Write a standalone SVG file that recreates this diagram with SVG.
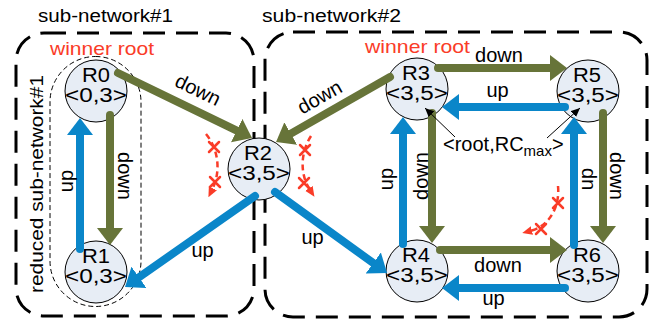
<svg xmlns="http://www.w3.org/2000/svg" width="656" height="321" viewBox="0 0 656 321">
<defs>
<style>
text{font-family:"Liberation Sans",Arial,sans-serif;fill:#000}
.lbl{font-size:20px;text-anchor:middle}
.nt{font-size:20px;text-anchor:middle}
.ttl{font-size:18px}
.win{font-size:19px;fill:#fa3c28}
.box{fill:none;stroke:#000;stroke-width:3;stroke-dasharray:22 11}
.reduced{fill:none;stroke:#000;stroke-width:1;stroke-dasharray:5 3}
.node circle{fill:#e7edf5;stroke:#000;stroke-width:1}
.ol{stroke:#677439;stroke-width:8;fill:none;stroke-linecap:round;marker-end:url(#ho)}
.bl{stroke:#0a86c9;stroke-width:8;fill:none;stroke-linecap:round;marker-end:url(#hb)}
.rd{stroke:#fa3c28;stroke-width:2.5;fill:none;stroke-dasharray:6 4;marker-end:url(#hr)}
.rx{stroke:#fa3c28;stroke-width:2.5;fill:none;stroke-linecap:round}
.ptr{stroke:#000;stroke-width:1;fill:none;marker-end:url(#hk)}
</style>
<marker id="ho" markerUnits="userSpaceOnUse" markerWidth="17" markerHeight="26" refX="3" refY="13" orient="auto"><path d="M0,0L17,13L0,26z" fill="#677439"/></marker>
<marker id="hb" markerUnits="userSpaceOnUse" markerWidth="17" markerHeight="26" refX="3" refY="13" orient="auto"><path d="M0,0L17,13L0,26z" fill="#0a86c9"/></marker>
<marker id="hr" markerUnits="userSpaceOnUse" markerWidth="10" markerHeight="10" refX="2" refY="5" orient="auto"><path d="M0,0.5L10,5L0,9.5z" fill="#fa3c28"/></marker>
<marker id="hk" markerUnits="userSpaceOnUse" markerWidth="9" markerHeight="8" refX="9" refY="4" orient="auto"><path d="M0,0L9,4L0,8z" fill="#000"/></marker>
</defs>

<g id="subnetwork1">
<rect class="box" x="16" y="33" width="238" height="283" rx="28"/>
<text class="ttl" x="38" y="22" textLength="135" lengthAdjust="spacingAndGlyphs">sub-network#1</text>
<text class="win" x="50" y="55" textLength="104" lengthAdjust="spacingAndGlyphs">winner root</text>
</g>
<g id="reduced-subnetwork1">
<rect class="reduced" x="50" y="56.5" width="91" height="250" rx="45.5"/>
<text font-size="19" text-anchor="middle" transform="translate(43,184) rotate(-90)" textLength="218" lengthAdjust="spacingAndGlyphs">reduced sub-network#1</text>
</g>
<g id="subnetwork2">
<rect class="box" x="265" y="32" width="382" height="285" rx="28"/>
<text class="ttl" x="262" y="22" textLength="139" lengthAdjust="spacingAndGlyphs">sub-network#2</text>
<text class="win" x="365" y="53" textLength="105" lengthAdjust="spacingAndGlyphs">winner root</text>
</g>

<g id="R0" class="node"><circle cx="96" cy="91" r="31"/><text class="nt" x="96" y="82" textLength="28" lengthAdjust="spacingAndGlyphs">R0</text><text class="nt" x="96" y="102" textLength="62" lengthAdjust="spacingAndGlyphs">&lt;0,3&gt;</text></g>
<g id="R1" class="node"><circle cx="96" cy="272" r="31"/><text class="nt" x="96" y="263" textLength="28" lengthAdjust="spacingAndGlyphs">R1</text><text class="nt" x="96" y="283" textLength="62" lengthAdjust="spacingAndGlyphs">&lt;0,3&gt;</text></g>
<g id="R2" class="node"><circle cx="259" cy="169" r="31"/><text class="nt" x="258" y="160" textLength="28" lengthAdjust="spacingAndGlyphs">R2</text><text class="nt" x="259" y="180" textLength="62" lengthAdjust="spacingAndGlyphs">&lt;3,5&gt;</text></g>
<g id="R3" class="node"><circle cx="417" cy="89" r="31"/><text class="nt" x="416" y="80" textLength="28" lengthAdjust="spacingAndGlyphs">R3</text><text class="nt" x="417" y="100" textLength="62" lengthAdjust="spacingAndGlyphs">&lt;3,5&gt;</text></g>
<g id="R4" class="node"><circle cx="417" cy="271" r="31"/><text class="nt" x="416" y="262" textLength="28" lengthAdjust="spacingAndGlyphs">R4</text><text class="nt" x="417" y="282" textLength="62" lengthAdjust="spacingAndGlyphs">&lt;3,5&gt;</text></g>
<g id="R5" class="node"><circle cx="588" cy="91" r="31"/><text class="nt" x="587" y="82" textLength="28" lengthAdjust="spacingAndGlyphs">R5</text><text class="nt" x="588" y="102" textLength="62" lengthAdjust="spacingAndGlyphs">&lt;3,5&gt;</text></g>
<g id="R6" class="node"><circle cx="588" cy="271" r="31"/><text class="nt" x="587" y="262" textLength="28" lengthAdjust="spacingAndGlyphs">R6</text><text class="nt" x="588" y="282" textLength="62" lengthAdjust="spacingAndGlyphs">&lt;3,5&gt;</text></g>

<g id="connectors">
<path class="ol" d="M118,73L239.4,131.9"/>
<path class="ol" d="M390,77L288.2,135.1"/>
<path class="bl" d="M255,196L136.5,279"/>
<path class="bl" d="M275,192L375.7,264.8"/>
<path class="bl" d="M80,249L80,132"/>
<path class="ol" d="M110,115L110,231"/>
<path class="ol" d="M438,68L553,68"/>
<path class="bl" d="M565,107L456,107"/>
<path class="bl" d="M403,244L403,131"/>
<path class="ol" d="M432,113L432,229"/>
<path class="bl" d="M574,245L574,131"/>
<path class="ol" d="M603,113L603,229"/>
<path class="ol" d="M440,250L553,250"/>
<path class="bl" d="M565,288L456,288"/>
<text class="lbl" transform="translate(195,96) rotate(26)">down</text>
<text class="lbl" transform="translate(323,103) rotate(-29.7)">down</text>
<text class="lbl" x="202.5" y="257">up</text>
<text class="lbl" x="312.5" y="244">up</text>
<text class="lbl" transform="translate(72.5,181) rotate(-90)">up</text>
<text class="lbl" transform="translate(118,176) rotate(90)">down</text>
<text class="lbl" x="499" y="62">down</text>
<text class="lbl" x="497.5" y="97">up</text>
<text class="lbl" transform="translate(393,179) rotate(-90)">up</text>
<text class="lbl" transform="translate(428,176) rotate(-90)">down</text>
<text class="lbl" transform="translate(593,179) rotate(-90)">up</text>
<text class="lbl" transform="translate(610,176) rotate(90)">down</text>
<text class="lbl" x="498" y="272">down</text>
<text class="lbl" x="493.5" y="305">up</text>
</g>

<g id="annotation">
<path class="ptr" d="M455,137L425,108"/>
<path class="ptr" d="M547,138L580,108"/>
<text font-size="20" x="443" y="151">&lt;root,RC<tspan font-size="15" dy="5">max</tspan><tspan dy="-5">&gt;</tspan></text>
</g>

<g id="failures">
<path class="rd" d="M206,134C219,150 221,172 212,190"/>
<path class="rx" d="M209,142L219,152M219,142L209,152M210,177L220,187M220,177L210,187"/>
<path class="rd" d="M311,136C300,153 300,175 310,190"/>
<path class="rx" d="M300,145L310,155M310,145L300,155M299,178L309,188M309,178L299,188"/>
<path class="rd" d="M558,186C560,206 550,226 530,231"/>
<path class="rx" d="M553,198L563,208M563,198L553,208M536,224L546,234M546,224L536,234"/>
</g>
</svg>
